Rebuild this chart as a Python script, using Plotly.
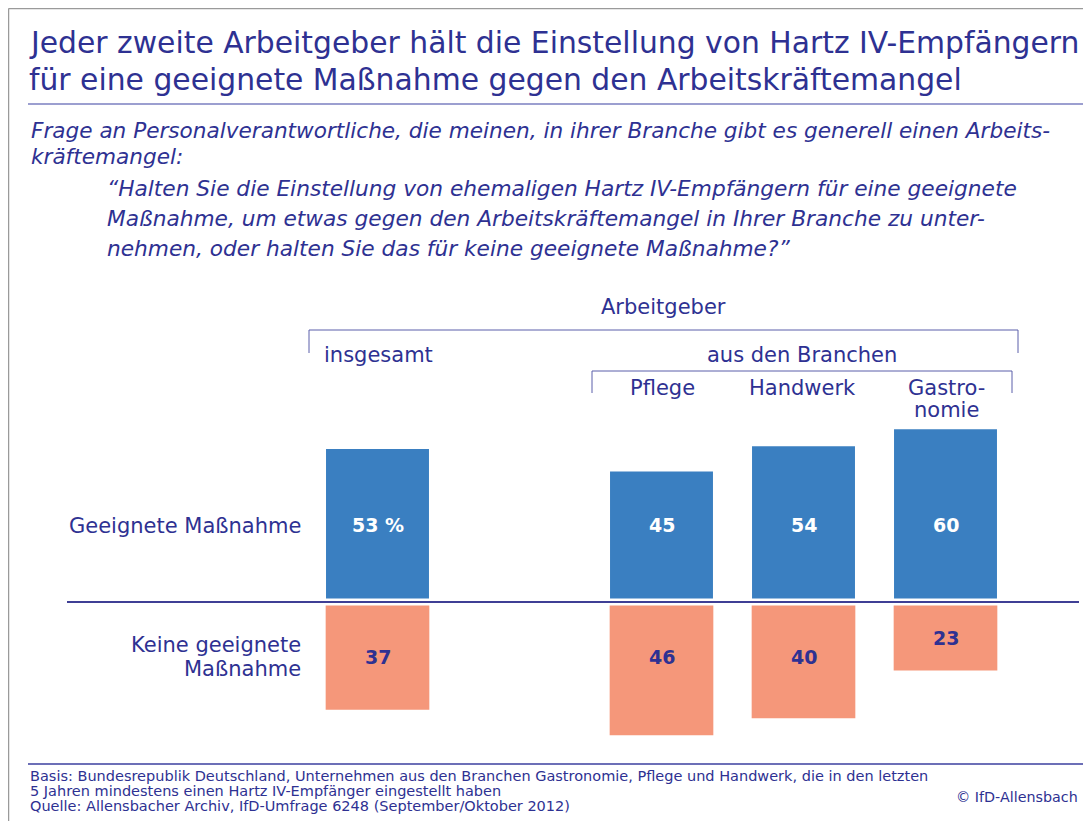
import plotly.graph_objects as go

W, H = 1091, 821
NAVY = "#2e3192"
BLUE = "#3a7fc1"
SALMON = "#f5977a"

categories = ["insgesamt", "Pflege", "Handwerk", "Gastronomie"]
x_pos = [0, 2, 3, 4]
geeignet = [53, 45, 54, 60]
nicht_geeignet = [37, 46, 40, 23]
blue_labels = ["53 %", "45", "54", "60"]

title_lines = ["Jeder zweite Arbeitgeber hält die Einstellung von Hartz IV-Empfängern",
               "für eine geeignete Maßnahme gegen den Arbeitskräftemangel"]
frage_lines = ["Frage an Personalverantwortliche, die meinen, in ihrer Branche gibt es generell einen Arbeits-",
               "kräftemangel:"]
zitat_lines = ["“Halten Sie die Einstellung von ehemaligen Hartz IV-Empfängern für eine geeignete",
               "Maßnahme, um etwas gegen den Arbeitskräftemangel in Ihrer Branche zu unter-",
               "nehmen, oder halten Sie das für keine geeignete Maßnahme?”"]
footer_lines = ["Basis: Bundesrepublik Deutschland, Unternehmen aus den Branchen Gastronomie, Pflege und Handwerk, die in den letzten",
                "5 Jahren mindestens einen Hartz IV-Empfänger eingestellt haben",
                "Quelle: Allensbacher Archiv, IfD-Umfrage 6248 (September/Oktober 2012)"]

FONT = "DejaVu Sans"
OFF = 8             # page body margin offset
GAP = 1.25          # half gap around the zero line, in data units
PX_PER_X = 142.0
PX_PER_Y = 2.82
X0_PX, Y0_PX = 377.5 - OFF, 602.0 - OFF


def px(x):
    return (x - OFF) / W


def py(y):
    return 1 - (y - OFF) / H


fig = go.Figure()
fig.add_trace(go.Bar(
    x=x_pos, y=geeignet, base=GAP, width=0.725,
    marker=dict(color=BLUE, line=dict(width=0)), hoverinfo="skip"
))
fig.add_trace(go.Bar(
    x=x_pos, y=[-v for v in nicht_geeignet], base=-GAP, width=0.73,
    marker=dict(color=SALMON, line=dict(width=0)), hoverinfo="skip"
))

ann = []
for xp, lbl in zip(x_pos, blue_labels):
    ann.append(dict(x=xp, y=27.3, xref="x", yref="y", text=f"<b>{lbl}</b>", showarrow=False,
                    font=dict(family=FONT, size=19, color="white")))
for xp, v in zip(x_pos, nicht_geeignet):
    yl = -min(19.5, GAP + v / 2)
    ann.append(dict(x=xp, y=yl, xref="x", yref="y", text=f"<b>{v}</b>", showarrow=False,
                    font=dict(family=FONT, size=19, color=NAVY)))


def txt(x, y, text, size, xanchor="left", italic=False):
    t = f"<i>{text}</i>" if italic else text
    ann.append(dict(x=px(x), y=py(y), xref="paper", yref="paper", text=t, showarrow=False,
                    xanchor=xanchor, yanchor="middle",
                    font=dict(family=FONT, size=size, color=NAVY)))


for y, s in zip([42, 80], title_lines):
    txt(27, y, s, 29.8)
for y, s in zip([130, 156], frage_lines):
    txt(29, y, s, 21.6, italic=True)
for y, s in zip([188, 219, 249], zitat_lines):
    txt(105, y, s, 21.7, italic=True)

txt(663, 307, "Arbeitgeber", 21, xanchor="center")
txt(322, 355, "insgesamt", 21)
txt(802, 355, "aus den Branchen", 21, xanchor="center")
txt(662, 388, "Pflege", 21, xanchor="center")
txt(802, 388, "Handwerk", 21, xanchor="center")
txt(946, 388, "Gastro-", 21, xanchor="center")
txt(946, 410, "nomie", 21, xanchor="center")

txt(303, 526, "Geeignete Maßnahme", 21, xanchor="right")
txt(303, 645, "Keine geeignete", 21, xanchor="right")
txt(303, 669, "Maßnahme", 21, xanchor="right")

for y, s in zip([776, 791, 806], footer_lines):
    txt(28, y, s, 14.5)
txt(1080, 797, "© IfD-Allensbach", 14.3, xanchor="right")


def line(x0, y0, x1, y1, color, width):
    return dict(type="line", xref="paper", yref="paper", x0=px(x0), y0=py(y0), x1=px(x1), y1=py(y1),
                line=dict(color=color, width=width))


shapes = [
    line(8.5, 8.5, W + OFF, 8.5, "#9a9a9a", 1.5),
    line(8.5, 8.5, 8.5, H + OFF, "#9a9a9a", 1.5),
    line(28, 104, W + OFF, 104, "#7b7fc0", 1.5),
    line(67, 602, 1079, 602, "#3f3f95", 2),
    line(309, 330, 1018, 330, "#5a5eaa", 1),
    line(309, 330, 309, 353, "#5a5eaa", 1),
    line(1018, 330, 1018, 353, "#5a5eaa", 1),
    line(592, 371, 1012, 371, "#5a5eaa", 1),
    line(592, 371, 592, 393, "#5a5eaa", 1),
    line(1012, 371, 1012, 393, "#5a5eaa", 1),
    line(28, 764, W + OFF, 764, "#3b3f9f", 1.5),
]

x_lo = -X0_PX / PX_PER_X
y_hi = Y0_PX / PX_PER_Y
fig.update_layout(
    width=W, height=H,
    margin=dict(l=0, r=0, t=0, b=0),
    paper_bgcolor="white", plot_bgcolor="white",
    showlegend=False, barmode="overlay",
    xaxis=dict(range=[x_lo, x_lo + W / PX_PER_X], visible=False, fixedrange=True),
    yaxis=dict(range=[y_hi - H / PX_PER_Y, y_hi], visible=False, fixedrange=True),
    annotations=ann, shapes=shapes,
)
fig.write_html("out.html", config={"displayModeBar": False})
